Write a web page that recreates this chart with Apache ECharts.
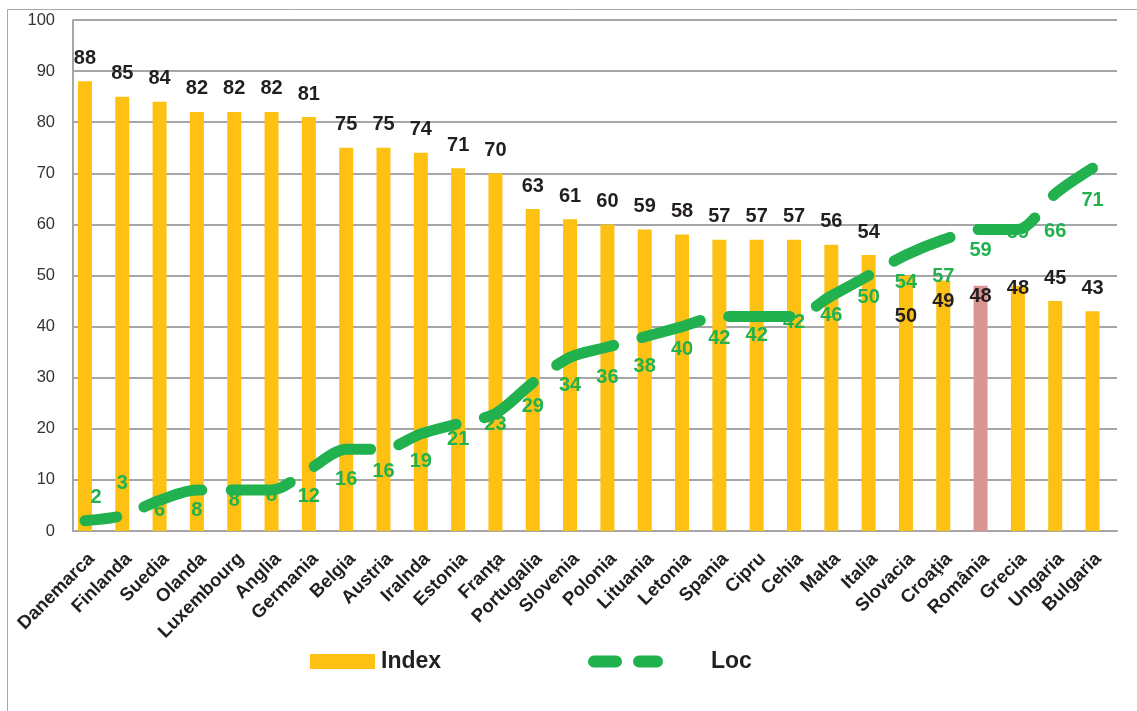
<!DOCTYPE html>
<html>
<head>
<meta charset="utf-8">
<title>Index și Loc pe țări</title>
<script src="https://cdn.jsdelivr.net/npm/echarts@6/dist/echarts.min.js"></script>
<style>
  html, body { margin: 0; padding: 0; background: #ffffff; }
  #chart { width: 1137px; height: 711px; }
</style>
</head>
<body>
<div id="chart"></div>
<script>
// Countries, ordered by Index (descending)
const categories = [
  'Danemarca', 'Finlanda', 'Suedia', 'Olanda', 'Luxembourg', 'Anglia', 'Germania',
  'Belgia', 'Austria', 'Iralnda', 'Estonia', 'Franţa', 'Portugalia', 'Slovenia',
  'Polonia', 'Lituania', 'Letonia', 'Spania', 'Cipru', 'Cehia', 'Malta', 'Italia',
  'Slovacia', 'Croaţia', 'România', 'Grecia', 'Ungaria', 'Bulgaria'
];

// Index score per country (bars)
const indexValues = [
  88, 85, 84, 82, 82, 82, 81, 75, 75, 74, 71, 70, 63, 61,
  60, 59, 58, 57, 57, 57, 56, 54, 50, 49, 48, 48, 45, 43
];

// Loc value per country (dashed line)
const locValues = [
  2, 3, 6, 8, 8, 8, 12, 16, 16, 19, 21, 23, 29, 34,
  36, 38, 40, 42, 42, 42, 46, 50, 54, 57, 59, 59, 66, 71
];

// Y axis ticks
const yTicks = [0, 10, 20, 30, 40, 50, 60, 70, 80, 90, 100];

const highlightCountry = 'România';

// Label nudges (pixels) so numbers stay clear of the dashed line
const barLabelShift = { 'Slovacia': 64, 'Croaţia': 44, 'România': 34, 'Grecia': 26 };
const locLabelShift = [
  [11, -23], [0, -32], [0, 10], [0, 20], [0, 10], [0, 5], [0, 27],
  [0, 30], [0, 22], [0, 28], [0, 16], [0, 11], [0, 24], [0, 28],
  [0, 30], [0, 30], [0, 23], [0, 22], [0, 19], [0, 6], [0, 20], [0, 22],
  [0, 27], [0, 37], [0, 21], [0, 3], [0, 38], [0, 32]
];

const YELLOW = '#fdc113';
const PINK = '#d99594';
const GREEN = '#21b14f';
const INK = '#231f20';
const GRID = '#a6a6a6';
const FONT = '"Liberation Sans", Arial, sans-serif';

// Two rounded dashes, used as the legend key of the Loc line
const DASH_ICON = 'path://M6,0 H28 A6,6 0 0 1 28,12 H6 A6,6 0 0 1 6,0 Z M51,0 H69 A6,6 0 0 1 69,12 H51 A6,6 0 0 1 51,0 Z';

const barData = categories.map((c, i) => {
  const item = { value: indexValues[i] };
  if (c === highlightCountry) item.itemStyle = { color: PINK };
  if (barLabelShift[c] !== undefined) item.label = { offset: [0, barLabelShift[c]] };
  return item;
});

const locData = locValues.map((v, i) => {
  const s = locLabelShift[i];
  return { value: v, label: { offset: [s[0], s[1] - 10] } };
});

const chart = echarts.init(document.getElementById('chart'), null, { renderer: 'canvas' });

chart.setOption({
  animation: false,
  backgroundColor: '#ffffff',
  graphic: [{
    type: 'rect',
    silent: true,
    z: -10,
    shape: { x: 7.5, y: 9.5, width: 1160, height: 720 },
    style: { fill: 'none', stroke: GRID, lineWidth: 1 }
  }],
  // grid 0: frame, gridlines and axis labels; grid 1: the plotted marks
  grid: [
    { left: 73, right: 20, top: 20, bottom: 180, containLabel: false },
    { left: 66.3, right: 25.8, top: 20, bottom: 180, containLabel: false }
  ],
  legend: [{
    data: [{ name: 'Index', icon: 'rect' }],
    left: 310, top: 650, padding: 0,
    itemWidth: 65, itemHeight: 15,
    textStyle: { fontFamily: FONT, fontWeight: 'bold', fontSize: 23, color: INK, padding: [0, 0, 0, 1] },
    selectedMode: false
  }, {
    data: [{ name: 'Loc', icon: DASH_ICON, itemStyle: { color: GREEN } }],
    left: 588, top: 650, padding: 0,
    itemWidth: 75, itemHeight: 12,
    textStyle: { fontFamily: FONT, fontWeight: 'bold', fontSize: 23, color: INK, padding: [0, 0, 0, 43] },
    selectedMode: false
  }],
  xAxis: [{
    type: 'category',
    gridIndex: 0,
    data: categories,
    axisLine: { show: true, lineStyle: { color: GRID, width: 2 } },
    axisTick: { show: false },
    axisLabel: {
      interval: 0,
      rotate: 45,
      margin: 25,
      fontFamily: FONT,
      fontWeight: 'bold',
      fontSize: 18.5,
      color: INK
    }
  }, {
    type: 'category',
    gridIndex: 1,
    data: categories,
    axisLine: { show: false },
    axisTick: { show: false },
    axisLabel: { show: false }
  }],
  yAxis: [{
    type: 'value',
    gridIndex: 0,
    min: 0,
    max: 100,
    interval: 10,
    axisLine: { show: true, lineStyle: { color: GRID, width: 2 } },
    axisTick: { show: false },
    splitLine: { show: true, lineStyle: { color: GRID, width: 2 } },
    axisLabel: {
      margin: 18,
      fontFamily: FONT,
      fontSize: 16.5,
      color: '#333333',
      formatter: v => (yTicks.includes(v) ? String(v) : '')
    }
  }, {
    type: 'value',
    gridIndex: 1,
    min: 0,
    max: 100,
    interval: 10,
    show: false,
    splitLine: { show: false }
  }],
  series: [{
    name: 'Index',
    type: 'bar',
    xAxisIndex: 1,
    yAxisIndex: 1,
    data: barData,
    barWidth: 14,
    itemStyle: { color: YELLOW },
    label: {
      show: true,
      position: 'top',
      distance: 13,
      fontFamily: FONT,
      fontWeight: 'bold',
      fontSize: 20,
      color: INK
    },
    z: 2
  }, {
    name: 'Loc',
    type: 'line',
    xAxisIndex: 1,
    yAxisIndex: 1,
    data: locData,
    smooth: 0.3,
    symbol: 'circle',
    symbolSize: 0,
    showSymbol: true,
    lineStyle: { color: GREEN, width: 11, type: [61, 29], dashOffset: 29, cap: 'round', join: 'round' },
    itemStyle: { color: GREEN },
    label: {
      show: true,
      position: 'bottom',
      distance: 0,
      fontFamily: FONT,
      fontWeight: 'bold',
      fontSize: 20,
      color: GREEN
    },
    z: 3
  }]
});
</script>
</body>
</html>
